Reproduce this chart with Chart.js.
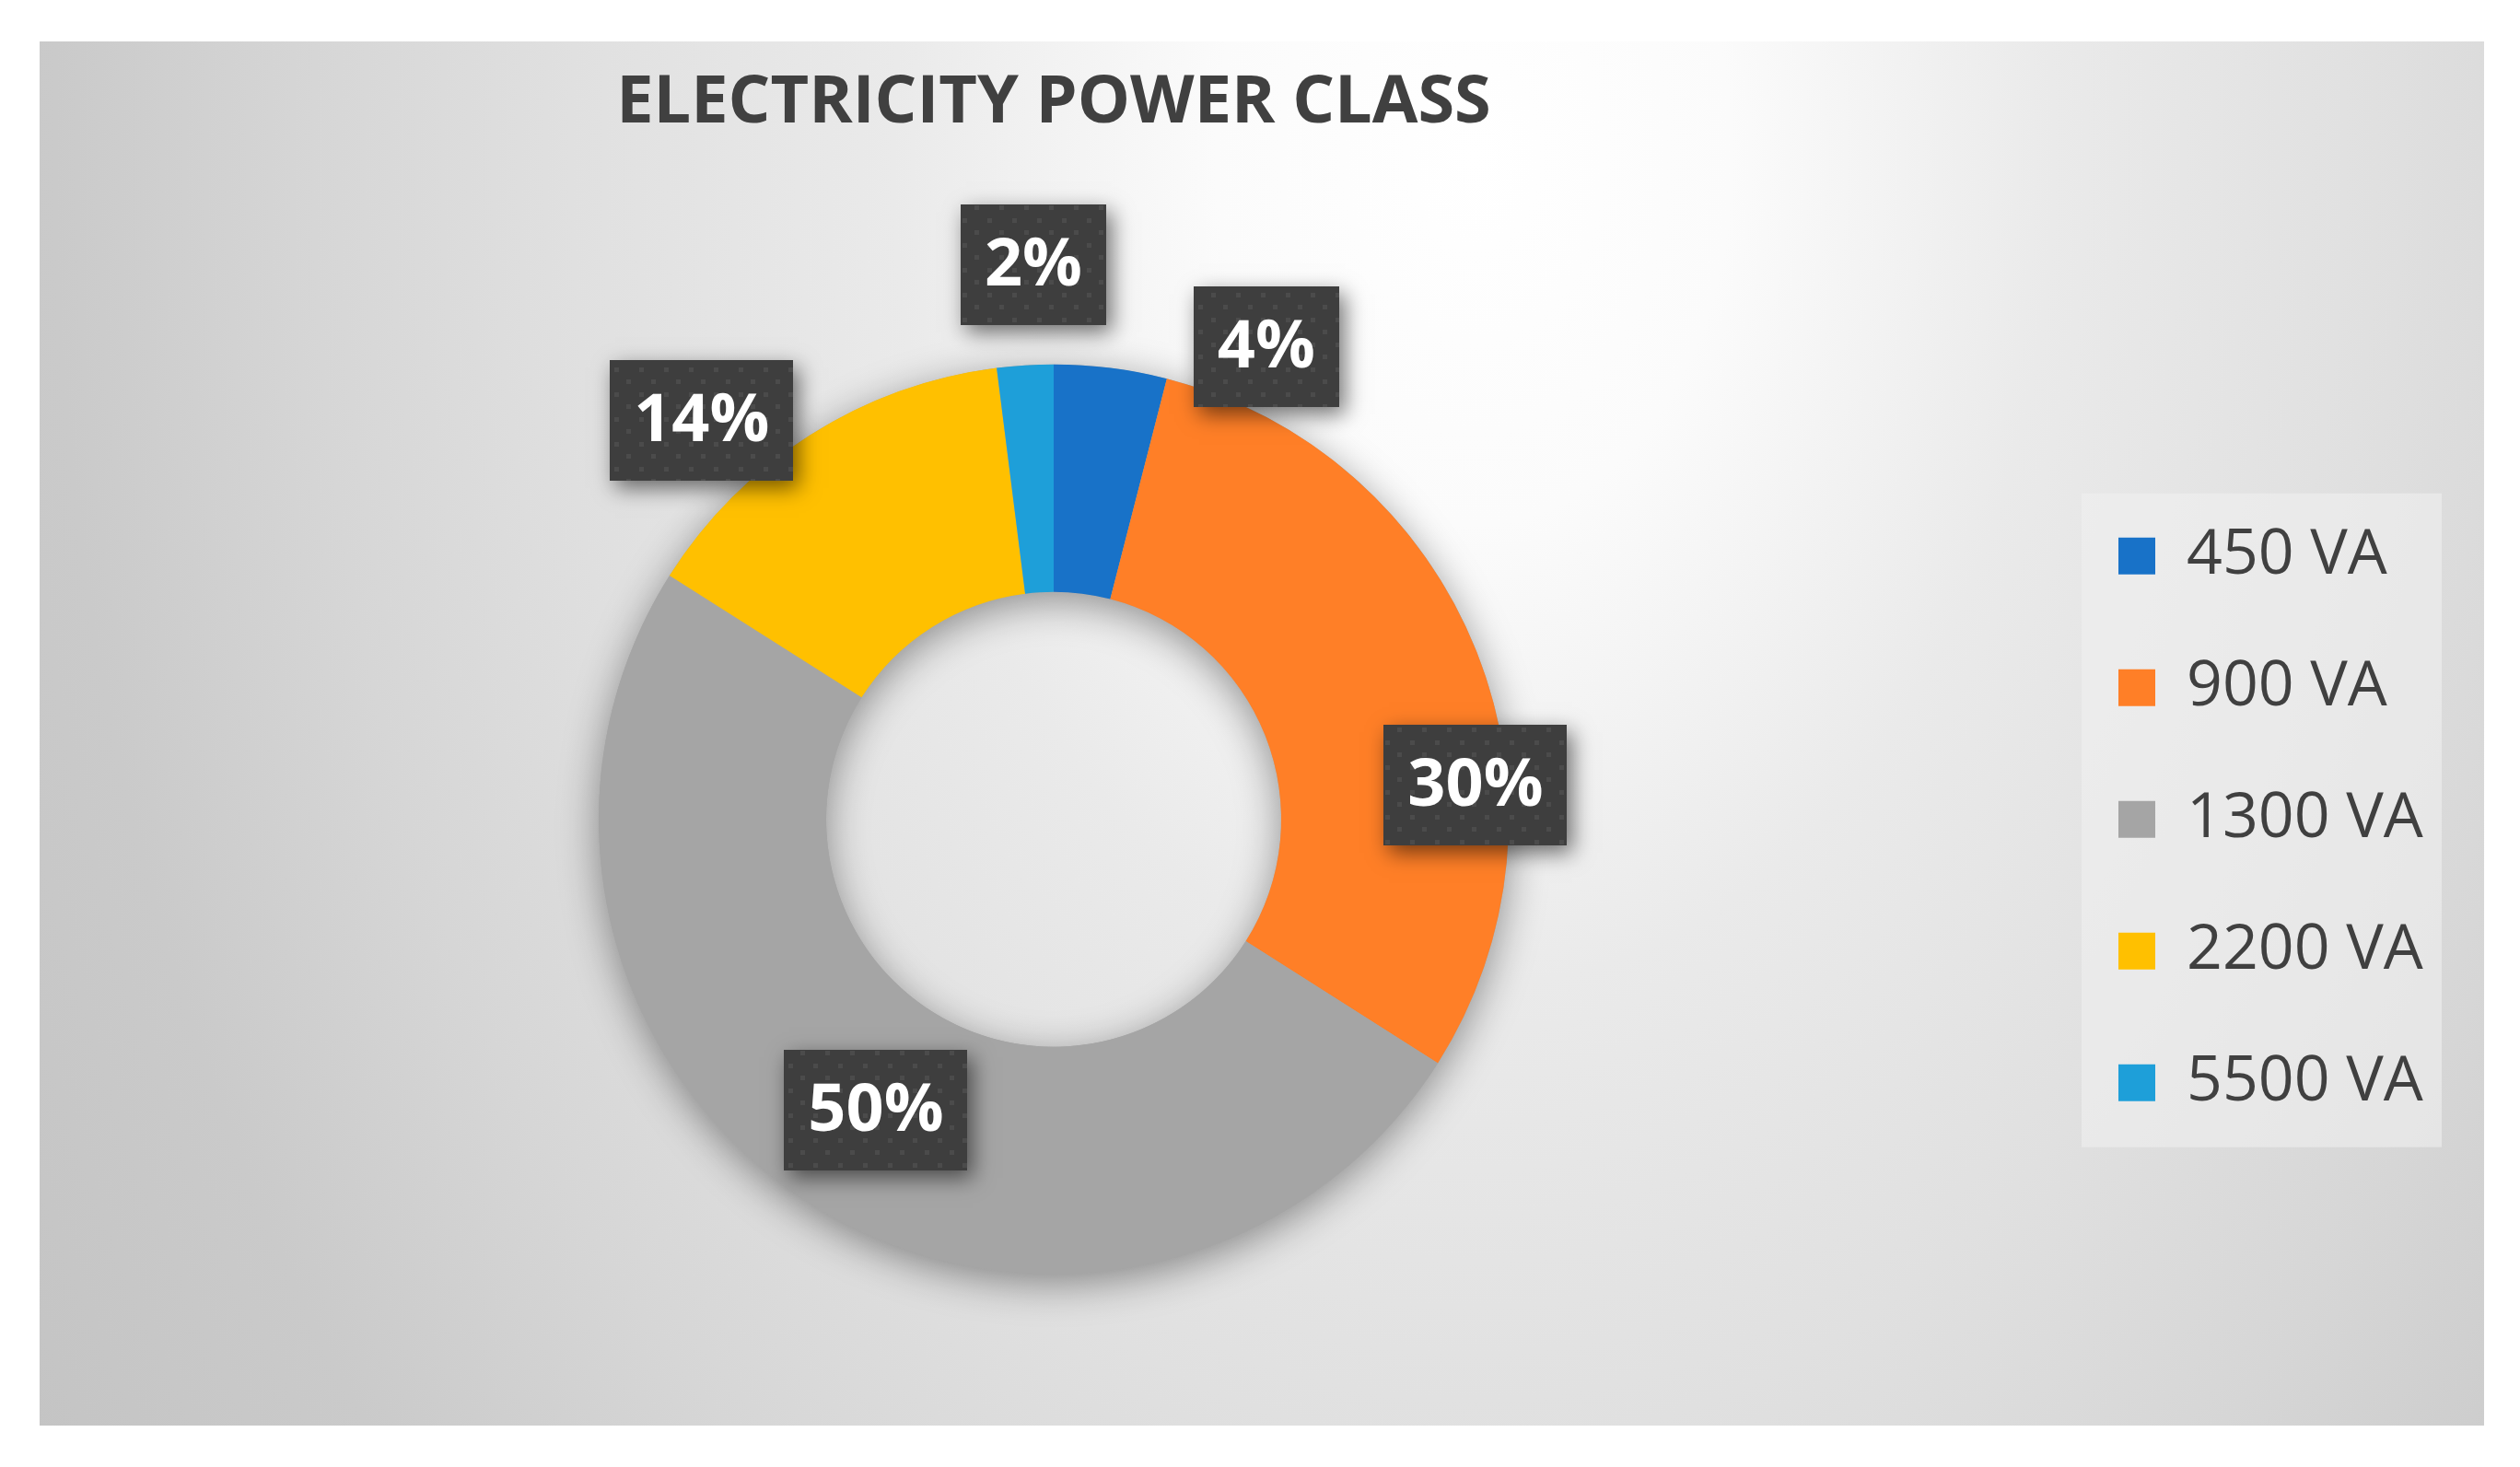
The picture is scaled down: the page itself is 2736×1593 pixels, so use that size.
<!DOCTYPE html>
<html>
<head>
<meta charset="utf-8">
<title>Electricity Power Class</title>
<script src="https://cdn.jsdelivr.net/npm/chart.js@4.4.1/dist/chart.umd.min.js"></script>
<style>
  html, body { margin: 0; padding: 0; background: #ffffff; }
  body { width: 2736px; height: 1593px; position: relative; overflow: hidden; }
  /* grey plot panel with the soft radial light from the top */
  #chart-box {
    position: absolute; left: 43px; top: 45px; width: 2654px; height: 1503px;
    background: radial-gradient(1400px 2000px at 1557px 125px,
      #ffffff 0%, #fbfbfb 20%, #eaeaea 45%, #e0e0e0 70%, #d6d6d6 90%, #cacaca 110%, #c3c3c3 135%);
  }
  canvas { display: block; }
</style>
</head>
<body>
<div id="chart-box"><canvas id="power-canvas" width="2654" height="1503"></canvas></div>
<script>
// Electricity power class doughnut
// - Chart.js draws the ring, title and legend
// - small plugins add the legend panel, ring shadow and boxed % labels

// Data
var CATEGORIES = ['450 VA', '900 VA', '1300 VA', '2200 VA', '5500 VA'];
var SHARES     = [4, 30, 50, 14, 2];          /* percent */
var COLORS     = ['#1872c8', '#ff7f27', '#a5a5a5', '#ffc000', '#1e9fd9'];

// Label placement: shift (deg) from the slice middle, distance as factor of outer radius
var LABEL_SHIFT  = [17, 17, -1, -9, 1.5];
var LABEL_RADIUS = [1.14, 0.93, 0.75, 1.17, 1.22];

var TEXT_COLOR = '#404040';
var FONT       = "'Open Sans', sans-serif";

var LEGEND_FONT = 68;
var LEGEND_BOX  = 40;
var LEGEND_PAD  = 75;

var CANVAS_W   = 2654;
var AREA_LEFT  = 20;     /* chart area left edge */
var AREA_RIGHT = 2182;   /* chart area right edge, legend starts here */

// Width Chart.js will give the legend, so the chart area ends at AREA_RIGHT
function legendWidth() {
  var ctx = document.createElement('canvas').getContext('2d');
  ctx.font = LEGEND_FONT + 'px ' + FONT;
  var widest = 0;
  CATEGORIES.forEach(function(c) { widest = Math.max(widest, ctx.measureText(c).width); });
  return LEGEND_PAD + LEGEND_BOX + LEGEND_FONT / 2 + widest + 10;
}

// Light panel behind the legend
var legendPanel = {
  id: 'legendPanel',
  beforeDraw: function(chart) {
    var boxes = chart.legend && chart.legend.legendHitBoxes;
    if (!boxes || !boxes.length) { return; }
    var first = boxes[0];
    var last  = boxes[boxes.length - 1];
    var left   = first.left - 40;
    var top    = first.top + first.height / 2 - 68;
    var bottom = last.top + last.height / 2 + 70;
    var ctx = chart.ctx;
    ctx.save();
    ctx.fillStyle = 'rgba(240,240,240,0.6)';
    ctx.fillRect(left, top, 391, bottom - top);
    ctx.restore();
  }
};

// Soft shadow under the whole ring
var ringShadow = {
  id: 'ringShadow',
  beforeDatasetsDraw: function(chart) {
    var arc = chart.getDatasetMeta(0).data[0];
    if (!arc) { return; }
    var p = arc.getProps(['x', 'y', 'innerRadius', 'outerRadius'], true);
    var ctx = chart.ctx;
    ctx.save();
    ctx.shadowColor = 'rgba(0,0,0,0.4)';
    ctx.shadowBlur = 44;
    ctx.shadowOffsetY = 10;
    ctx.fillStyle = '#a5a5a5';
    ctx.beginPath();
    ctx.arc(p.x, p.y, p.outerRadius, 0, Math.PI * 2);
    ctx.moveTo(p.x + p.innerRadius, p.y);
    ctx.arc(p.x, p.y, p.innerRadius, 0, Math.PI * 2, true);
    ctx.fill();
    ctx.restore();
  }
};

// Dark dotted tile used for the data label boxes
var labelPattern = null;
function makePattern(ctx) {
  var tile = document.createElement('canvas');
  tile.width = 27; tile.height = 27;
  var t = tile.getContext('2d');
  t.fillStyle = '#3e3e3e';
  t.fillRect(0, 0, 27, 27);
  t.fillStyle = '#4b4b4b';
  t.fillRect(3, 3, 5, 5);
  t.fillRect(16, 16, 5, 5);
  return ctx.createPattern(tile, 'repeat');
}

// Percentage labels in dark boxes
var boxedLabels = {
  id: 'boxedLabels',
  afterDatasetsDraw: function(chart) {
    var ctx = chart.ctx;
    var meta = chart.getDatasetMeta(0);
    var total = SHARES.reduce(function(a, b) { return a + b; }, 0);
    if (!labelPattern) { labelPattern = makePattern(ctx); }
    ctx.save();
    ctx.font = 'bold 72px ' + FONT;
    ctx.textAlign = 'center';
    ctx.textBaseline = 'middle';
    meta.data.forEach(function(arc, i) {
      var p = arc.getProps(['x', 'y', 'startAngle', 'endAngle', 'outerRadius'], true);
      var ang = (p.startAngle + p.endAngle) / 2 + LABEL_SHIFT[i] * Math.PI / 180;
      var r = p.outerRadius * LABEL_RADIUS[i];
      var cx = p.x + Math.cos(ang) * r;
      var cy = p.y + Math.sin(ang) * r;
      var text = Math.round(SHARES[i] / total * 100) + '%';
      var w = Math.round(ctx.measureText(text).width + 52);
      var h = 131;
      var x0 = Math.round(cx - w / 2);
      var y0 = Math.round(cy - h / 2);

      ctx.save();
      ctx.shadowColor = 'rgba(0,0,0,0.55)';
      ctx.shadowBlur = 22;
      ctx.shadowOffsetX = 6;
      ctx.shadowOffsetY = 8;
      ctx.fillStyle = '#3e3e3e';
      ctx.fillRect(x0, y0, w, h);
      ctx.restore();

      ctx.fillStyle = labelPattern;
      ctx.fillRect(x0, y0, w, h);
      ctx.fillStyle = '#ffffff';
      ctx.fillText(text, cx, cy + 2);
    });
    ctx.restore();
  }
};

function initChart() {
  var canvas = document.getElementById('power-canvas');
  var padRight = CANVAS_W - AREA_RIGHT - legendWidth();

  new Chart(canvas, {
    type: 'doughnut',
    data: {
      labels: CATEGORIES,
      datasets: [{
        data:            SHARES,
        backgroundColor: COLORS,
        borderWidth:     0,
      }],
    },
    options: {
      responsive:       false,
      animation:        false,
      devicePixelRatio: 1,
      events:           [],
      radius:           494,
      cutout:           '50%',
      layout: {
        padding: { left: AREA_LEFT, right: padRight, top: 0, bottom: 0 },
      },
      plugins: {
        title: {
          display:  true,
          text:     'ELECTRICITY POWER CLASS',
          fullSize: false,
          color:    TEXT_COLOR,
          font:     { family: FONT, size: 72, weight: 'bold' },
          padding:  { top: 24, bottom: 76 },
        },
        legend: {
          position: 'right',
          fullSize: false,
          labels: {
            boxWidth:  LEGEND_BOX,
            boxHeight: LEGEND_BOX,
            padding:   LEGEND_PAD,
            color:     TEXT_COLOR,
            font:      { family: FONT, size: LEGEND_FONT },
          },
        },
        tooltip: { enabled: false },
      },
    },
    plugins: [legendPanel, ringShadow, boxedLabels],
  });
}

document.addEventListener('DOMContentLoaded', initChart);
</script>
</body>
</html>
